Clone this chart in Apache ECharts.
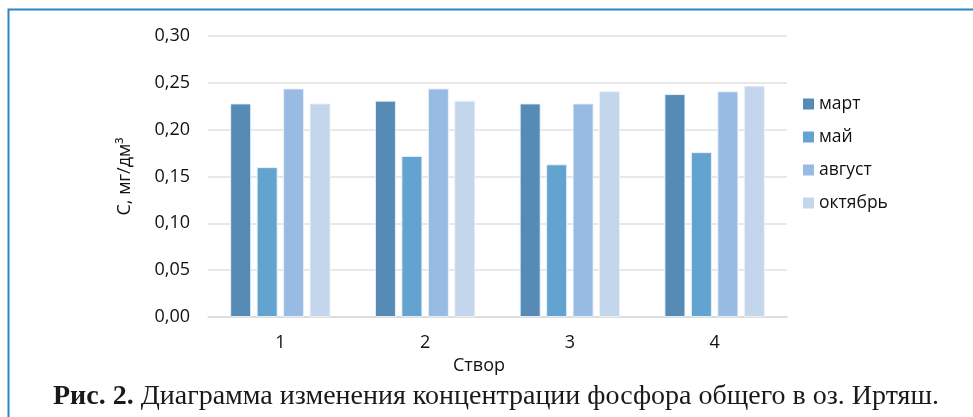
<!DOCTYPE html>
<html>
<head>
<meta charset="utf-8">
<script src="https://cdn.jsdelivr.net/npm/echarts@6/dist/echarts.min.js"></script>
<style>
  html, body { margin: 0; padding: 0; background: #ffffff; }
  #chart { width: 973px; height: 417px; }
</style>
</head>
<body>
<div id="chart"></div>
<script>
// Sampling sites (створы) along the lake
const categories = ['1', '2', '3', '4'];

// Total phosphorus concentration, mg/dm³, per season
const seriesNames = ['март', 'май', 'август', 'октябрь'];
const marchValues   = [0.228, 0.231, 0.228, 0.238];
const mayValues     = [0.160, 0.172, 0.163, 0.176];
const augustValues  = [0.244, 0.244, 0.228, 0.241];
const octoberValues = [0.228, 0.231, 0.241, 0.247];

const seriesColors = ['#568bb6', '#63a3d0', '#97bbe2', '#c4d6ec'];

const yTicks = { min: 0, max: 0.30, interval: 0.05 };

const captionBold = 'Рис. 2.';
const captionText = ' Диаграмма изменения концентрации фосфора общего в оз. Иртяш.';

const FONT = '"Open Sans", "Noto Sans", sans-serif';
const SERIF = '"Liberation Serif", "DejaVu Serif", serif';
const TEXT_COLOR = '#111111';

const valueSets = [marchValues, mayValues, augustValues, octoberValues];

const chart = echarts.init(document.getElementById('chart'), null, { renderer: 'canvas' });

chart.setOption({
  animation: false,
  backgroundColor: '#ffffff',
  textStyle: { fontFamily: FONT },
  title: {
    text: '{b|' + captionBold + '}{n|' + captionText + '}',
    left: 48,
    top: 378,
    textStyle: {
      fontWeight: 'normal',
      rich: {
        b: { fontFamily: SERIF, fontWeight: 'bold', fontSize: 28, color: '#1a1a1a' },
        n: { fontFamily: SERIF, fontWeight: 'normal', fontSize: 28, color: '#1a1a1a' }
      }
    }
  },
  grid: { left: 208, right: 186, top: 36, bottom: 100, containLabel: false },
  legend: {
    orient: 'vertical',
    left: 798,
    top: 90,
    itemWidth: 11,
    itemHeight: 11,
    itemGap: 15,
    icon: 'rect',
    itemStyle: { borderWidth: 0 },
    textStyle: { fontFamily: FONT, fontSize: 17.5, color: TEXT_COLOR },
    data: seriesNames
  },
  xAxis: {
    type: 'category',
    data: categories,
    name: 'Створ',
    nameLocation: 'middle',
    nameGap: 36,
    nameTextStyle: { fontFamily: FONT, fontSize: 18, color: TEXT_COLOR, padding: [0, 37, 0, 0] },
    axisLine: { lineStyle: { color: '#d9d9d9', width: 1.5 } },
    axisTick: { show: false },
    axisLabel: { margin: 17, fontFamily: FONT, fontSize: 18, color: TEXT_COLOR }
  },
  yAxis: {
    type: 'value',
    min: yTicks.min,
    max: yTicks.max,
    interval: yTicks.interval,
    name: 'С, мг/дм³',
    nameLocation: 'middle',
    nameGap: 74,
    nameRotate: 90,
    nameTextStyle: { fontFamily: FONT, fontSize: 18, color: TEXT_COLOR },
    axisLine: { show: false },
    axisTick: { show: false },
    splitLine: { lineStyle: { color: '#e0e0e0', width: 1.5 } },
    axisLabel: {
      margin: 18,
      fontFamily: FONT,
      fontSize: 18,
      color: TEXT_COLOR,
      formatter: v => v.toFixed(2).replace('.', ',')
    }
  },
  series: seriesNames.map((name, i) => ({
    name,
    type: 'bar',
    data: valueSets[i],
    barWidth: 21,
    barGap: '26%',
    itemStyle: { color: seriesColors[i], borderColor: 'rgba(235,242,250,0.9)', borderWidth: 1 }
  })),
  graphic: [
    {
      type: 'polyline',
      silent: true,
      shape: { points: [[8.5, 417], [8.5, 9.5], [973, 9.5]] },
      style: { stroke: '#2a86c8', lineWidth: 2, fill: null }
    }
  ]
});
</script>
</body>
</html>
